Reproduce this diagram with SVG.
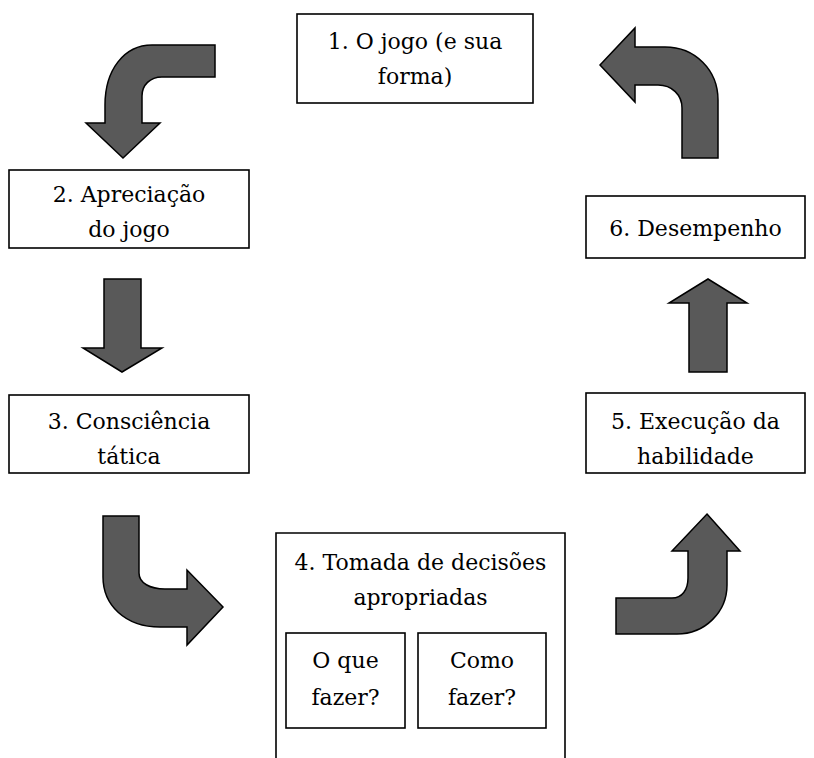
<svg xmlns="http://www.w3.org/2000/svg" width="814" height="758" viewBox="0 0 814 758">
<style>
.box{fill:#fff;stroke:#000;stroke-width:1.6}
.t{font-family:"DejaVu Serif",serif;font-size:22px;fill:#000;text-anchor:middle}
.arr{fill:#595959;stroke:#000;stroke-width:1.5;stroke-linejoin:miter}
</style>
<rect width="814" height="758" fill="#fff"/>
<g id="connectors">
<path class="arr" d="M215,45 L152,45 C124,45 105,70 105,105 L105,123 L86,123 L123,158 L160,123 L142,123 L142,96 C142,85 150,77 162,77 L215,77 Z"/>
<path class="arr" d="M104,279 L141,279 L141,348 L162,348 L122,372 L83,348 L104,348 Z"/>
<path class="arr" d="M103,516 L139,516 L139,573 C139,583 150,589 165,589 L187,589 L187,570 L223,607 L187,645 L187,627 L160,627 C125,627 103,605 103,577 Z"/>
<path class="arr" d="M707,514 L740,551 L727,551 L727,585 C727,612 705,634 677,634 L616,634 L616,598 L672,598 C682,598 688,590 688,578 L688,551 L672,551 Z"/>
<path class="arr" d="M689,372 L727,372 L727,303 L747,303 L708,279 L669,303 L689,303 Z"/>
<path class="arr" d="M600,65 L635,28 L635,47 L665,47 C695,47 718,70 718,100 L718,158 L682,158 L682,108 C682,95 672,85 658,85 L635,85 L635,102 Z"/>
</g>
<g id="n1">
<rect class="box" x="297" y="14" width="236" height="89"/>
<text class="t" x="415" y="49">1. O jogo (e sua</text>
<text class="t" x="415" y="84">forma)</text>
</g>
<g id="n2">
<rect class="box" x="9" y="170" width="240" height="78"/>
<text class="t" x="129" y="202">2. Apreciação</text>
<text class="t" x="129" y="237">do jogo</text>
</g>
<g id="n3">
<rect class="box" x="9" y="395" width="240" height="78"/>
<text class="t" x="129" y="429">3. Consciência</text>
<text class="t" x="129" y="464">tática</text>
</g>
<g id="n4">
<path class="box" d="M276,770 V533 H565 V770"/>
<text class="t" x="420.5" y="570">4. Tomada de decisões</text>
<text class="t" x="420.5" y="605">apropriadas</text>
<g id="n4a">
<rect class="box" x="286" y="633" width="119" height="95"/>
<text class="t" x="345.5" y="668">O que</text>
<text class="t" x="345.5" y="705">fazer?</text>
</g>
<g id="n4b">
<rect class="box" x="418" y="633" width="128" height="95"/>
<text class="t" x="482" y="668">Como</text>
<text class="t" x="482" y="705">fazer?</text>
</g>
</g>
<g id="n5">
<rect class="box" x="586" y="393" width="219" height="80"/>
<text class="t" x="695.5" y="429">5. Execução da</text>
<text class="t" x="695.5" y="464">habilidade</text>
</g>
<g id="n6">
<rect class="box" x="586" y="196" width="219" height="62"/>
<text class="t" x="695.5" y="236">6. Desempenho</text>
</g>
</svg>
